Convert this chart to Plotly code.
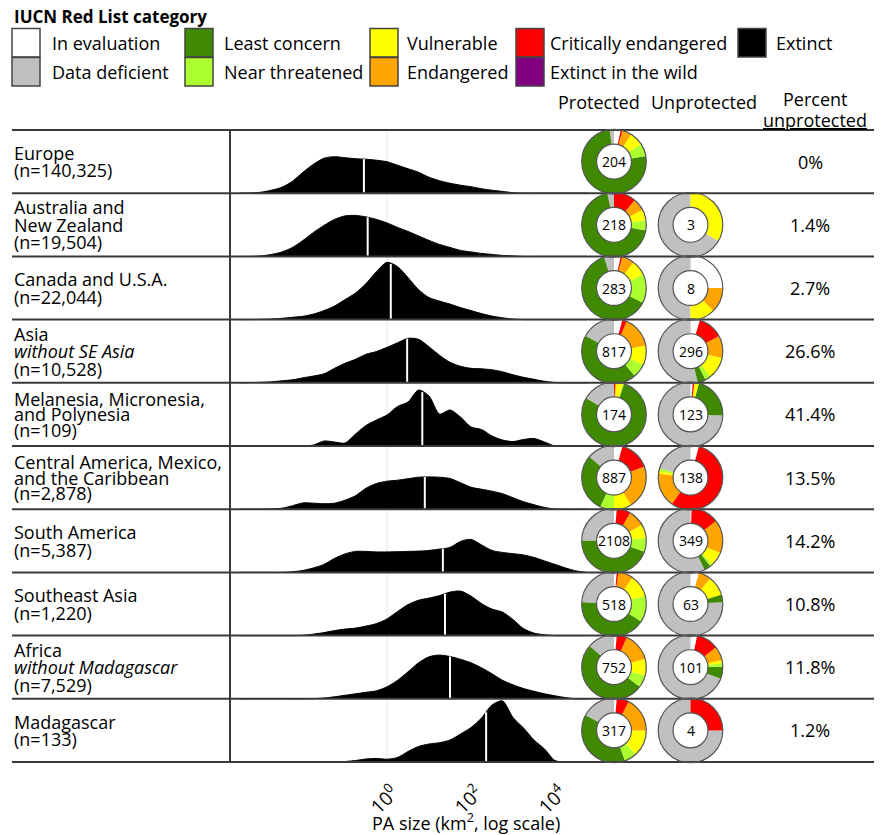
import plotly.graph_objects as go
import numpy as np

W, H = 886, 835
FONT = "Open Sans"

# ---------------- data ----------------
categories = ["In evaluation", "Data deficient", "Least concern", "Near threatened",
              "Vulnerable", "Endangered", "Critically endangered", "Extinct in the wild", "Extinct"]
cat_colors = ["#ffffff", "#c0c0c0", "#3f8a00", "#adff2f", "#ffff00", "#ffa500", "#ff0000", "#800080", "#000000"]

regions = ["Europe", "Australia and New Zealand", "Canada and U.S.A.", "Asia without SE Asia",
           "Melanesia, Micronesia, and Polynesia", "Central America, Mexico, and the Caribbean",
           "South America", "Southeast Asia", "Africa without Madagascar", "Madagascar"]
label_lines = [["Europe"], ["Australia and", "New Zealand"], ["Canada and U.S.A."],
               ["Asia", "<i>without SE Asia</i>"], ["Melanesia, Micronesia,", "and Polynesia"],
               ["Central America, Mexico,", "and the Caribbean"], ["South America"],
               ["Southeast Asia"], ["Africa", "<i>without Madagascar</i>"], ["Madagascar"]]
n_total = [140325, 19504, 22044, 10528, 109, 2878, 5387, 1220, 7529, 133]
pct_unprotected = [0, 1.4, 2.7, 26.6, 41.4, 13.5, 14.2, 10.8, 11.8, 1.2]
prot_n = [204, 218, 283, 817, 174, 887, 2108, 518, 752, 317]
unprot_n = [None, 3, 8, 296, 123, 138, 349, 63, 101, 4]

# log10(PA size, km2) sample points for the density ridges
log_area = [-3.5, -3.25, -3.0, -2.75, -2.5, -2.25, -2.0, -1.75, -1.5, -1.25, -1.0, -0.75,
            -0.5, -0.25, 0.0, 0.25, 0.5, 0.75, 1.0, 1.25, 1.5, 1.75, 2.0, 2.25, 2.5, 2.75,
            3.0, 3.25, 3.5, 3.75, 4.0, 4.25, 4.5, 4.75]
density = [
    [0, 0.2, 1, 3, 6, 12, 21, 29, 35, 36.5, 35.5, 34.5, 34, 33, 31.5, 28, 24.5, 21, 16, 12.5, 10, 8, 6.5, 4.5, 3, 1.8, 0.5, 0, 0, 0, 0, 0, 0, 0],
    [0, 0, 0.5, 2, 4.5, 9, 16, 24, 31, 37, 40.5, 41, 39.5, 37, 33.5, 29, 25, 20.5, 16, 12, 9, 6, 4.5, 3, 2, 1, 0.5, 0, 0, 0, 0, 0, 0, 0],
    [0, 0, 0.2, 0.6, 1.3, 2.3, 3.3, 5.5, 9, 13.5, 20, 26.5, 36, 48, 57.3, 53, 42, 30, 22, 18.5, 15.5, 12, 9, 6, 3.5, 1.8, 0.5, 0, 0, 0, 0, 0, 0, 0],
    [0, 0.2, 0.5, 1, 2, 3, 5, 6.8, 9, 14.5, 19.5, 23.5, 28.5, 31.3, 35.5, 40, 44.5, 43.5, 36, 27.5, 20.5, 16.5, 14.5, 14, 13, 11, 8, 5.5, 3.5, 1.5, 0.3, 0, 0, 0],
    [0.5, 0.3, 0, 0, 0, 0, 0, 1, 5, 4, 3, 12, 20.5, 26, 31, 39.5, 44, 56, 50, 32, 36, 29, 19, 16.5, 10, 6, 4.5, 6.5, 7.5, 4, 0, 0, 0, 0],
    [0, 0, 0, 0.3, 1, 3.5, 6.3, 6, 5.5, 6, 9, 13.5, 21, 25.7, 28, 29, 30.5, 32, 32.3, 32, 30.7, 26.5, 22, 20, 18, 15.5, 11.5, 7.5, 4.5, 1.8, 0.2, 0, 0, 0],
    [0, 0, 0, 0, 0, 0.6, 2, 4.5, 8, 14, 18.5, 21, 21, 20.5, 20.5, 20.7, 21, 21.3, 22, 23.3, 25, 31, 33, 27.5, 22, 20, 18.7, 17.5, 15, 11.5, 8, 4.5, 1.5, 0],
    [0, 0, 0, 0, 0, 0, 0.3, 1.5, 3, 5, 6.5, 7.5, 9.5, 12, 16.7, 24, 31, 35.3, 37.5, 40, 43.5, 44.5, 39.5, 32, 26.5, 23.5, 16, 7, 2.5, 0.8, 0, 0, 0, 0],
    [0, 0, 0, 0, 0, 0, 0, 0.2, 0.8, 2, 3.5, 5, 6.5, 8, 12, 18.5, 27, 36, 42, 43.7, 42.3, 39.5, 36, 31, 25, 18.5, 14, 10.3, 7.5, 5, 3, 1.2, 0, 0],
    [0, 0, 0, 0, 0, 0, 0, 0, 0, 0, 0.5, 1.5, 3, 3.5, 2.8, 4.5, 10.5, 15.5, 18, 19.3, 22, 28, 34.5, 44, 57, 61, 44.5, 34, 22, 13, 1.5, 0, 0, 0],
]
median_log_area = [-0.55, -0.46, 0.09, 0.48, 0.84, 0.90, 1.33, 1.38, 1.50, 2.36]

# shares per category (order of `categories`)
prot_shares = [
    [12, 8, 272, 23, 25, 17, 3, 0, 0],
    [0, 12, 248, 18, 20, 22, 40, 0, 0],
    [12, 18, 225, 52, 28, 22, 3, 0, 0],
    [15, 62, 158, 25, 35, 57, 8, 0, 0],
    [0, 60, 282, 2, 12, 2, 2, 0, 0],
    [15, 50, 105, 25, 32, 78, 55, 0, 0],
    [5, 90, 160, 25, 25, 30, 25, 0, 0],
    [5, 87, 150, 48, 40, 27, 3, 0, 0],
    [5, 49, 184, 22, 30, 52, 18, 0, 0],
    [5, 62, 138, 22, 48, 63, 22, 0, 0],
]
unprot_shares = [
    None,
    [0, 2, 0, 0, 1, 0, 0, 0, 0],
    [2, 4, 0, 0, 1, 1, 0, 0, 0],
    [17, 193, 15, 10, 40, 40, 45, 0, 0],
    [4, 268, 77, 0, 8, 0, 3, 0, 0],
    [15, 73, 0, 5, 5, 62, 200, 0, 0],
    [2, 206, 12, 5, 25, 60, 50, 0, 0],
    [15, 273, 14, 0, 36, 22, 0, 0, 0],
    [12, 249, 22, 6, 6, 25, 40, 0, 0],
    [0, 3, 0, 0, 0, 0, 1, 0, 0],
]

# ---------------- layout constants (pixels) ----------------
ROW_TOP, ROW_H, NROW = 130, 63.2, len(regions)
RIDGE_X0, RIDGE_X1 = 230, 590
X_RANGE = [-3.738, 4.833]
PIE_R = 32.3
HOLE = 0.54
PROT_CX, UNPROT_CX = 614, 690.5
PCT_CX = 810
LINE_COLOR = "#3a3a3a"


def px(x):
    return x / W


def py(y):
    return 1 - y / H


def row_center(i):
    return ROW_TOP + ROW_H * (i + 0.5)


def text_ann(x, y, text, size, xanchor="center", **kw):
    return dict(x=px(x), y=py(y), xref="paper", yref="paper", text=text, showarrow=False,
                xanchor=xanchor, yanchor="middle",
                font=dict(family=FONT, size=size, color="black"), **kw)


fig = go.Figure()

dens_scale = 1.0 / ROW_H
for i in range(NROW):
    base = NROW - 1 - i
    d = np.array(density[i], dtype=float)
    fig.add_trace(go.Scatter(
        x=log_area, y=base + d * dens_scale, mode="lines",
        line=dict(color="black", width=1, shape="spline", smoothing=0.8),
        fill="toself", fillcolor="black", hoverinfo="skip", showlegend=False))
    m = median_log_area[i]
    mh = np.interp(m, log_area, d)
    fig.add_trace(go.Scatter(
        x=[m, m], y=[base + 0.01, base + mh * dens_scale], mode="lines",
        line=dict(color="white", width=2), hoverinfo="skip", showlegend=False))

shapes = []
annotations = []

# reference line at 10^0
shapes.append(dict(type="line", xref="x", yref="paper", x0=0, x1=0,
                   y0=py(762), y1=py(ROW_TOP), line=dict(color="#e8e8e8", width=1), layer="below"))

# row separators
for k in range(NROW + 1):
    y = ROW_TOP + ROW_H * k
    shapes.append(dict(type="line", xref="paper", yref="paper", x0=px(12), x1=px(874),
                       y0=py(y), y1=py(y), line=dict(color=LINE_COLOR, width=2), layer="above"))
shapes.append(dict(type="line", xref="paper", yref="paper", x0=px(RIDGE_X0), x1=px(RIDGE_X0),
                   y0=py(ROW_TOP), y1=py(ROW_TOP + ROW_H * NROW), line=dict(color=LINE_COLOR, width=2)))


def add_donut(cx, cy, shares, n):
    fig.add_trace(go.Pie(labels=categories, values=shares, hole=HOLE, sort=False,
                         direction="counterclockwise", rotation=0,
                         marker=dict(colors=cat_colors, line=dict(width=0)),
                         textinfo="none", hoverinfo="label+percent",
                         domain=dict(x=[px(cx - PIE_R), px(cx + PIE_R)],
                                     y=[py(cy + PIE_R), py(cy - PIE_R)]), showlegend=False))
    for r in (PIE_R, PIE_R * HOLE):
        shapes.append(dict(type="circle", xref="paper", yref="paper",
                           x0=px(cx - r), x1=px(cx + r), y0=py(cy + r), y1=py(cy - r),
                           line=dict(color="#555555", width=1.2), layer="above"))
    annotations.append(text_ann(cx, cy, str(n), 14))


for i in range(NROW):
    cy = row_center(i)
    add_donut(PROT_CX, cy, prot_shares[i], prot_n[i])
    if unprot_shares[i] is not None:
        add_donut(UNPROT_CX, cy, unprot_shares[i], unprot_n[i])

    # percent unprotected
    annotations.append(text_ann(PCT_CX, cy, f"{pct_unprotected[i]:g}%", 18))

    # row labels (one annotation per line for tight leading)
    lines = label_lines[i] + [f"(n={n_total[i]:,})"]
    gap = 15.5 if len(label_lines[i][0]) > 20 else 17.5
    nl = len(lines)
    for j, t in enumerate(lines):
        yy = cy + (j - (nl - 1) / 2) * gap
        annotations.append(text_ann(12, yy, t, 18, xanchor="left"))

# ---------------- legend ----------------
annotations.append(text_ann(12, 17, "<b>IUCN Red List category</b>", 17, xanchor="left"))
box_x = [12, 185, 370, 516, 738]
text_x = [50, 222, 405, 548, 774]
box_y = [28.5, 57.5]
for k, (cat, col) in enumerate(zip(categories, cat_colors)):
    c, r = k // 2, k % 2
    shapes.append(dict(type="rect", xref="paper", yref="paper",
                       x0=px(box_x[c]), x1=px(box_x[c] + 28), y0=py(box_y[r] + 28.5), y1=py(box_y[r]),
                       fillcolor=col, line=dict(color="#444444", width=1.5)))
    annotations.append(text_ann(text_x[c], box_y[r] + 14.5, cat, 18, xanchor="left"))

# column headers
annotations.append(text_ann(599, 102, "Protected", 18))
annotations.append(text_ann(704, 102, "Unprotected", 18))
annotations.append(text_ann(815, 99, "Percent", 18))
annotations.append(text_ann(815, 120, "<u>unprotected</u>", 18))

# axis title
annotations.append(text_ann(466, 822, "PA size (km<sup>2</sup>, log scale)", 18))

fig.update_layout(
    width=W, height=H, margin=dict(l=0, r=0, t=0, b=0),
    paper_bgcolor="white", plot_bgcolor="rgba(0,0,0,0)", showlegend=False,
    xaxis=dict(domain=[px(RIDGE_X0), px(RIDGE_X1)], range=X_RANGE, tickvals=[0, 2, 4],
               ticktext=["10<sup>0</sup>", "10<sup>2</sup>", "10<sup>4</sup>"], tickangle=-45,
               tickfont=dict(family=FONT, size=19, color="black"), showgrid=False,
               zeroline=False, showline=False, ticks="", ticklabelstandoff=15,
               ticklabelshift=6, fixedrange=True),
    yaxis=dict(domain=[py(ROW_TOP + ROW_H * NROW), py(ROW_TOP)], range=[0, NROW],
               visible=False, fixedrange=True),
    shapes=shapes, annotations=annotations,
)

fig.write_html("out.html")
